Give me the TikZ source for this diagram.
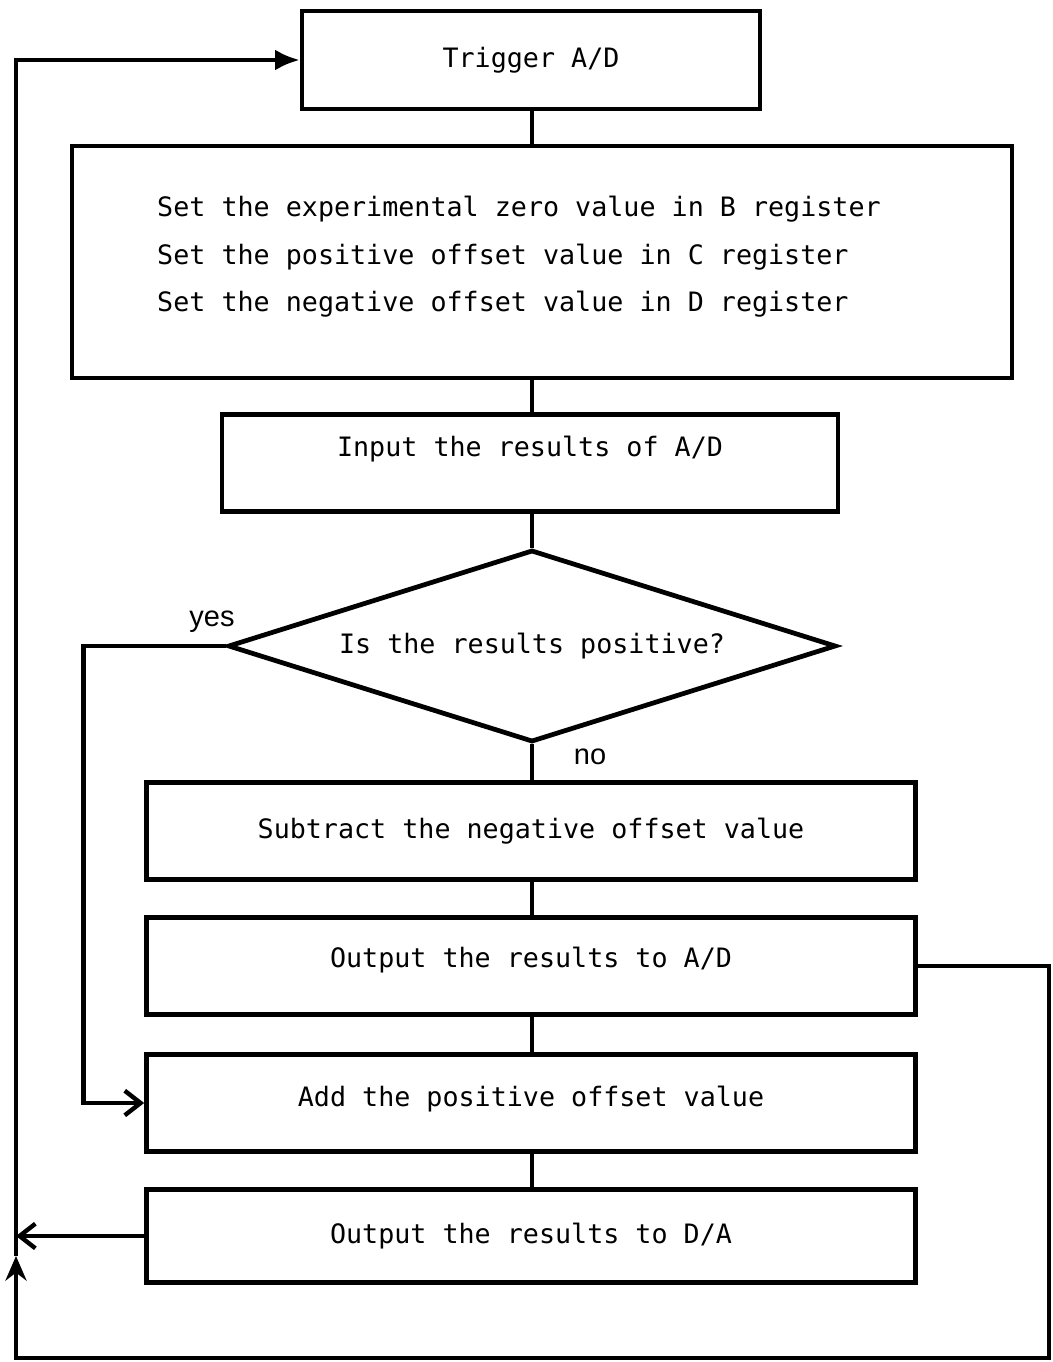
\documentclass[tikz,border=0pt]{standalone}
\usepackage{fontspec}
\setmonofont{DejaVu Sans Mono}
\newfontfamily\labelfont{Liberation Sans}
\usetikzlibrary{positioning,arrows.meta,calc,shapes.geometric}

\begin{document}
\begin{tikzpicture}[x=0.02cm,y=-0.02cm,
    line width=2.5pt,
    flowbox/.style={draw, line width=2.7pt, minimum width=769*0.02cm, minimum height=97*0.02cm,
      font=\ttfamily\fontsize{15.2}{27}\selectfont},
    answer/.style={font=\labelfont\fontsize{16.5}{18}\selectfont}]
        \useasboundingbox (0,0) rectangle (1053,1362);
        % process boxes
        \node[flowbox, minimum width=458*0.02cm, minimum height=98*0.02cm] (trig) at (531,60) {Trigger A/D};
        \node[flowbox, minimum width=940*0.02cm, minimum height=232*0.02cm] (setup) at (542,262) {};
        \node[align=left, font=\ttfamily\fontsize{15.2}{27}\selectfont] (setuptxt) at (519,257)
          {Set the experimental zero value in B register\\
           Set the positive offset value in C register\\
           Set the negative offset value in D register};
        \node[flowbox, minimum width=616*0.02cm, text depth=19pt] (input) at (530,463) {Input the results of A/D};
        \node[flowbox, shape=diamond, aspect=3.17, inner sep=0pt, minimum width=608*0.02cm, minimum height=192*0.02cm] (test) at (532,646) {Is the results positive?};
        \node[flowbox] (sub) at (531,831) {Subtract the negative offset value};
        \node[flowbox, text depth=10pt] (outad) at (531,966) {Output the results to A/D};
        \node[flowbox, text depth=8pt] (add) at (531,1103) {Add the positive offset value};
        \node[flowbox, minimum height=93*0.02cm] (outda) at (531,1236) {Output the results to D/A};
        % main line
        \coordinate (spine) at (532,0);
        \draw (trig.south -| spine) -- (setup.north -| spine);
        \draw (setup.south -| spine) -- (input.north -| spine);
        \draw (input.south -| spine) -- (test.north);
        \draw (test.south) -- (sub.north -| spine);
        \draw (sub.south -| spine) -- (outad.north -| spine);
        \draw (outad.south -| spine) -- (add.north -| spine);
        \draw (add.south -| spine) -- (outda.north -| spine);
        \node[answer] (no) at (590,757) {no};
        % yes branch
        \node[answer] (yes) at (212,622) {yes};
        \draw[-{Straight Barb[length=9pt,width=14pt]}] (test.west) -- ++(-142,0) |- (add.west);
        % loop back
        \coordinate (rgt) at (1049,1358);
        \coordinate (lft) at (16,1358);
        \coordinate (up) at (16,1256);
        \draw[-{Straight Barb[length=9pt,width=14pt]}] (outda.west) -- (outda.west -| lft);
        \draw[-{Stealth[length=14pt,width=12pt]}] (outad.east) -| (rgt) -- (lft) -- (up);
        \draw[-{Latex[length=14pt,width=12pt]}] (up) |- (trig.west);
      \end{tikzpicture}
\end{document}
